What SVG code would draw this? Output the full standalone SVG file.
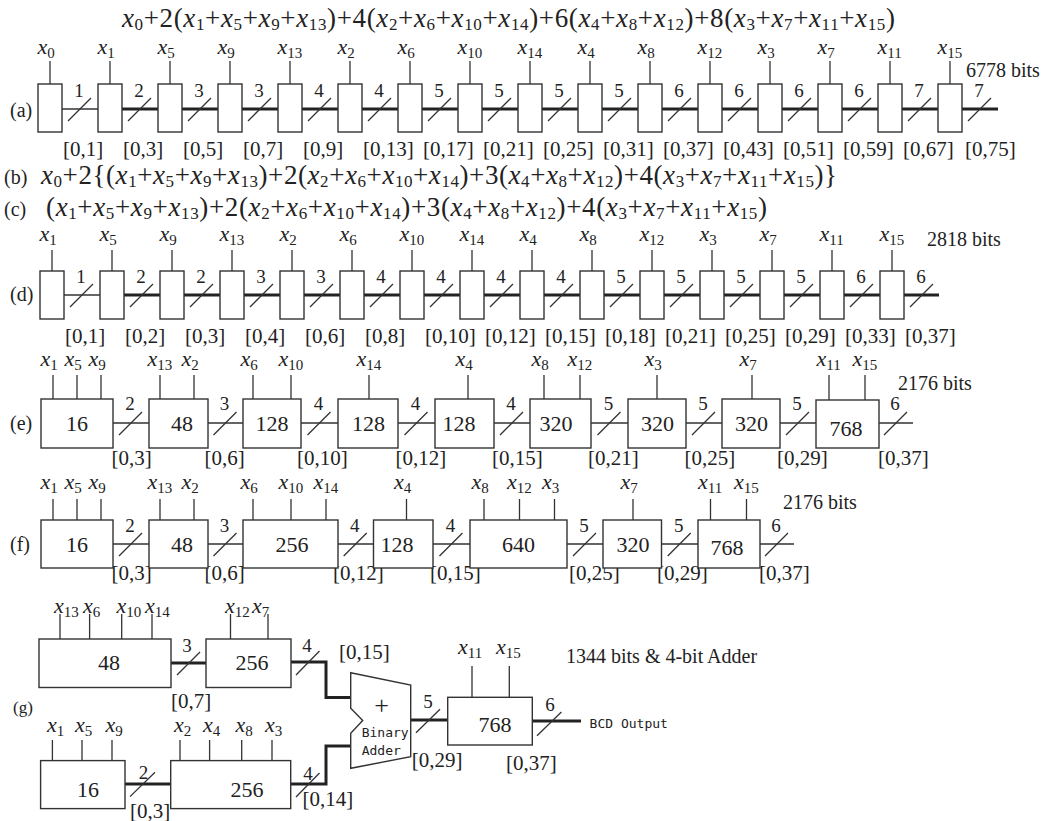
<svg xmlns="http://www.w3.org/2000/svg" width="1052" height="821" viewBox="0 0 1052 821">
<style>
.t{font-family:"Liberation Serif","Times New Roman",serif;fill:#222}
.fm{font-size:27px}
.fs{font-size:17px}
.xl{font-size:22px}
.i{font-style:italic}
.s{font-size:15px}
.n{font-size:19px;text-anchor:middle}
.r{font-size:21px}
.bl{font-size:22px;text-anchor:middle}
.lb{font-size:20px}
.m{font-family:"DejaVu Sans Mono","Liberation Mono",monospace;font-size:13px;fill:#222}
.bx{fill:#fff;stroke:#333;stroke-width:1.4}
.ln{fill:none;stroke:#333;stroke-width:1.3}
.tk{fill:none;stroke:#222;stroke-width:3}
</style>
<rect width="1052" height="821" fill="#fff"/>

<g id="formulas">
<text class="t fm" x="122" y="27" textLength="773"><tspan class="i">x</tspan><tspan class="fs" dy="3">0</tspan><tspan dy="-3">+2(</tspan><tspan class="i">x</tspan><tspan class="fs" dy="3">1</tspan><tspan dy="-3">+</tspan><tspan class="i">x</tspan><tspan class="fs" dy="3">5</tspan><tspan dy="-3">+</tspan><tspan class="i">x</tspan><tspan class="fs" dy="3">9</tspan><tspan dy="-3">+</tspan><tspan class="i">x</tspan><tspan class="fs" dy="3">13</tspan><tspan dy="-3">)+4(</tspan><tspan class="i">x</tspan><tspan class="fs" dy="3">2</tspan><tspan dy="-3">+</tspan><tspan class="i">x</tspan><tspan class="fs" dy="3">6</tspan><tspan dy="-3">+</tspan><tspan class="i">x</tspan><tspan class="fs" dy="3">10</tspan><tspan dy="-3">+</tspan><tspan class="i">x</tspan><tspan class="fs" dy="3">14</tspan><tspan dy="-3">)+6(</tspan><tspan class="i">x</tspan><tspan class="fs" dy="3">4</tspan><tspan dy="-3">+</tspan><tspan class="i">x</tspan><tspan class="fs" dy="3">8</tspan><tspan dy="-3">+</tspan><tspan class="i">x</tspan><tspan class="fs" dy="3">12</tspan><tspan dy="-3">)+8(</tspan><tspan class="i">x</tspan><tspan class="fs" dy="3">3</tspan><tspan dy="-3">+</tspan><tspan class="i">x</tspan><tspan class="fs" dy="3">7</tspan><tspan dy="-3">+</tspan><tspan class="i">x</tspan><tspan class="fs" dy="3">11</tspan><tspan dy="-3">+</tspan><tspan class="i">x</tspan><tspan class="fs" dy="3">15</tspan><tspan dy="-3">)</tspan></text>
<text class="t lb" x="4" y="184">(b)</text>
<text class="t fm" x="41" y="184" textLength="796"><tspan class="i">x</tspan><tspan class="fs" dy="3">0</tspan><tspan dy="-3">+2{(</tspan><tspan class="i">x</tspan><tspan class="fs" dy="3">1</tspan><tspan dy="-3">+</tspan><tspan class="i">x</tspan><tspan class="fs" dy="3">5</tspan><tspan dy="-3">+</tspan><tspan class="i">x</tspan><tspan class="fs" dy="3">9</tspan><tspan dy="-3">+</tspan><tspan class="i">x</tspan><tspan class="fs" dy="3">13</tspan><tspan dy="-3">)+2(</tspan><tspan class="i">x</tspan><tspan class="fs" dy="3">2</tspan><tspan dy="-3">+</tspan><tspan class="i">x</tspan><tspan class="fs" dy="3">6</tspan><tspan dy="-3">+</tspan><tspan class="i">x</tspan><tspan class="fs" dy="3">10</tspan><tspan dy="-3">+</tspan><tspan class="i">x</tspan><tspan class="fs" dy="3">14</tspan><tspan dy="-3">)+3(</tspan><tspan class="i">x</tspan><tspan class="fs" dy="3">4</tspan><tspan dy="-3">+</tspan><tspan class="i">x</tspan><tspan class="fs" dy="3">8</tspan><tspan dy="-3">+</tspan><tspan class="i">x</tspan><tspan class="fs" dy="3">12</tspan><tspan dy="-3">)+4(</tspan><tspan class="i">x</tspan><tspan class="fs" dy="3">3</tspan><tspan dy="-3">+</tspan><tspan class="i">x</tspan><tspan class="fs" dy="3">7</tspan><tspan dy="-3">+</tspan><tspan class="i">x</tspan><tspan class="fs" dy="3">11</tspan><tspan dy="-3">+</tspan><tspan class="i">x</tspan><tspan class="fs" dy="3">15</tspan><tspan dy="-3">)}</tspan></text>
<text class="t lb" x="4" y="216">(c)</text>
<text class="t fm" x="46" y="216" textLength="721"><tspan>(</tspan><tspan class="i">x</tspan><tspan class="fs" dy="3">1</tspan><tspan dy="-3">+</tspan><tspan class="i">x</tspan><tspan class="fs" dy="3">5</tspan><tspan dy="-3">+</tspan><tspan class="i">x</tspan><tspan class="fs" dy="3">9</tspan><tspan dy="-3">+</tspan><tspan class="i">x</tspan><tspan class="fs" dy="3">13</tspan><tspan dy="-3">)+2(</tspan><tspan class="i">x</tspan><tspan class="fs" dy="3">2</tspan><tspan dy="-3">+</tspan><tspan class="i">x</tspan><tspan class="fs" dy="3">6</tspan><tspan dy="-3">+</tspan><tspan class="i">x</tspan><tspan class="fs" dy="3">10</tspan><tspan dy="-3">+</tspan><tspan class="i">x</tspan><tspan class="fs" dy="3">14</tspan><tspan dy="-3">)+3(</tspan><tspan class="i">x</tspan><tspan class="fs" dy="3">4</tspan><tspan dy="-3">+</tspan><tspan class="i">x</tspan><tspan class="fs" dy="3">8</tspan><tspan dy="-3">+</tspan><tspan class="i">x</tspan><tspan class="fs" dy="3">12</tspan><tspan dy="-3">)+4(</tspan><tspan class="i">x</tspan><tspan class="fs" dy="3">3</tspan><tspan dy="-3">+</tspan><tspan class="i">x</tspan><tspan class="fs" dy="3">7</tspan><tspan dy="-3">+</tspan><tspan class="i">x</tspan><tspan class="fs" dy="3">11</tspan><tspan dy="-3">+</tspan><tspan class="i">x</tspan><tspan class="fs" dy="3">15</tspan><tspan dy="-3">)</tspan></text>
</g>

<!-- Row (a) -->
<g id="row-a-labels">
<text class="t lb" x="10" y="117">(a)</text>
<text class="t lb" x="966" y="77">6778 bits</text>
</g>
<g id="conn-a">
<path class="ln" d="M62 109H98"/>
<path class="tk" d="M122 109H158M182 109H218M242 109H278M302 109H338M362 109H398M422 109H458M482 109H518M542 109H578M602 109H638M662 109H698M722 109H758M782 109H818M842 109H878M902 109H938M962 109H998"/>
<path class="ln" d="M68 121L91 98M128 121L151 98M188 121L211 98M248 121L271 98M308 121L331 98M368 121L391 98M428 121L451 98M488 121L511 98M548 121L571 98M608 121L631 98M668 121L691 98M728 121L751 98M788 121L811 98M848 121L871 98M908 121L931 98M968 121L991 98"/>
<g class="t n">
<text x="79" y="97">1</text><text x="139" y="97">2</text><text x="199" y="97">3</text><text x="259" y="97">3</text><text x="319" y="97">4</text><text x="379" y="97">4</text><text x="439" y="97">5</text><text x="499" y="97">5</text><text x="559" y="97">5</text><text x="619" y="97">5</text><text x="679" y="97">6</text><text x="739" y="97">6</text><text x="799" y="97">6</text><text x="859" y="97">6</text><text x="919" y="97">7</text><text x="979" y="97">7</text>
</g>
<g class="t r">
<text x="63" y="156">[0,1]</text><text x="123" y="156">[0,3]</text><text x="183" y="156">[0,5]</text><text x="243" y="156">[0,7]</text><text x="303" y="156">[0,9]</text><text x="363" y="156">[0,13]</text><text x="423" y="156">[0,17]</text><text x="483" y="156">[0,21]</text><text x="543" y="156">[0,25]</text><text x="603" y="156">[0,31]</text><text x="663" y="156">[0,37]</text><text x="723" y="156">[0,43]</text><text x="783" y="156">[0,51]</text><text x="843" y="156">[0,59]</text><text x="903" y="156">[0,67]</text><text x="965" y="156">[0,75]</text>
</g>
</g>
<g id="a-x0"><rect class="bx" x="38" y="84" width="24" height="48"/><path class="ln" d="M50 61V84"/><text class="t xl" x="37.5" y="54"><tspan class="i">x</tspan><tspan class="s" dy="4">0</tspan></text></g>
<g id="a-x1"><rect class="bx" x="98" y="84" width="24" height="48"/><path class="ln" d="M110 61V84"/><text class="t xl" x="97.5" y="54"><tspan class="i">x</tspan><tspan class="s" dy="4">1</tspan></text></g>
<g id="a-x5"><rect class="bx" x="158" y="84" width="24" height="48"/><path class="ln" d="M170 61V84"/><text class="t xl" x="157.5" y="54"><tspan class="i">x</tspan><tspan class="s" dy="4">5</tspan></text></g>
<g id="a-x9"><rect class="bx" x="218" y="84" width="24" height="48"/><path class="ln" d="M230 61V84"/><text class="t xl" x="217.5" y="54"><tspan class="i">x</tspan><tspan class="s" dy="4">9</tspan></text></g>
<g id="a-x13"><rect class="bx" x="278" y="84" width="24" height="48"/><path class="ln" d="M290 61V84"/><text class="t xl" x="277.5" y="54"><tspan class="i">x</tspan><tspan class="s" dy="4">13</tspan></text></g>
<g id="a-x2"><rect class="bx" x="338" y="84" width="24" height="48"/><path class="ln" d="M350 61V84"/><text class="t xl" x="337.5" y="54"><tspan class="i">x</tspan><tspan class="s" dy="4">2</tspan></text></g>
<g id="a-x6"><rect class="bx" x="398" y="84" width="24" height="48"/><path class="ln" d="M410 61V84"/><text class="t xl" x="397.5" y="54"><tspan class="i">x</tspan><tspan class="s" dy="4">6</tspan></text></g>
<g id="a-x10"><rect class="bx" x="458" y="84" width="24" height="48"/><path class="ln" d="M470 61V84"/><text class="t xl" x="457.5" y="54"><tspan class="i">x</tspan><tspan class="s" dy="4">10</tspan></text></g>
<g id="a-x14"><rect class="bx" x="518" y="84" width="24" height="48"/><path class="ln" d="M530 61V84"/><text class="t xl" x="517.5" y="54"><tspan class="i">x</tspan><tspan class="s" dy="4">14</tspan></text></g>
<g id="a-x4"><rect class="bx" x="578" y="84" width="24" height="48"/><path class="ln" d="M590 61V84"/><text class="t xl" x="577.5" y="54"><tspan class="i">x</tspan><tspan class="s" dy="4">4</tspan></text></g>
<g id="a-x8"><rect class="bx" x="638" y="84" width="24" height="48"/><path class="ln" d="M650 61V84"/><text class="t xl" x="637.5" y="54"><tspan class="i">x</tspan><tspan class="s" dy="4">8</tspan></text></g>
<g id="a-x12"><rect class="bx" x="698" y="84" width="24" height="48"/><path class="ln" d="M710 61V84"/><text class="t xl" x="697.5" y="54"><tspan class="i">x</tspan><tspan class="s" dy="4">12</tspan></text></g>
<g id="a-x3"><rect class="bx" x="758" y="84" width="24" height="48"/><path class="ln" d="M770 61V84"/><text class="t xl" x="757.5" y="54"><tspan class="i">x</tspan><tspan class="s" dy="4">3</tspan></text></g>
<g id="a-x7"><rect class="bx" x="818" y="84" width="24" height="48"/><path class="ln" d="M830 61V84"/><text class="t xl" x="817.5" y="54"><tspan class="i">x</tspan><tspan class="s" dy="4">7</tspan></text></g>
<g id="a-x11"><rect class="bx" x="878" y="84" width="24" height="48"/><path class="ln" d="M890 61V84"/><text class="t xl" x="877.5" y="54"><tspan class="i">x</tspan><tspan class="s" dy="4">11</tspan></text></g>
<g id="a-x15"><rect class="bx" x="938" y="84" width="24" height="48"/><path class="ln" d="M950 61V84"/><text class="t xl" x="937.5" y="54"><tspan class="i">x</tspan><tspan class="s" dy="4">15</tspan></text></g>

<!-- Row (d) -->
<g id="row-d-labels">
<text class="t lb" x="10" y="301">(d)</text>
<text class="t lb" x="927" y="246">2818 bits</text>
</g>
<g id="conn-d">
<path class="ln" d="M64 295H100"/>
<path class="tk" d="M124 295H160M184 295H220M244 295H280M304 295H340M364 295H400M424 295H460M484 295H520M544 295H580M604 295H640M664 295H700M724 295H760M784 295H820M844 295H880M904 295H939"/>
<path class="ln" d="M70 307L93 284M130 307L153 284M190 307L213 284M250 307L273 284M310 307L333 284M370 307L393 284M430 307L453 284M490 307L513 284M550 307L573 284M610 307L633 284M670 307L693 284M730 307L753 284M790 307L813 284M850 307L873 284M910 307L933 284"/>
<g class="t n">
<text x="81" y="283">1</text><text x="141" y="283">2</text><text x="201" y="283">2</text><text x="261" y="283">3</text><text x="321" y="283">3</text><text x="381" y="283">4</text><text x="441" y="283">4</text><text x="501" y="283">4</text><text x="561" y="283">4</text><text x="621" y="283">5</text><text x="681" y="283">5</text><text x="741" y="283">5</text><text x="801" y="283">5</text><text x="861" y="283">6</text><text x="921" y="283">6</text>
</g>
<g class="t r">
<text x="65" y="343">[0,1]</text><text x="125" y="343">[0,2]</text><text x="185" y="343">[0,3]</text><text x="245" y="343">[0,4]</text><text x="305" y="343">[0,6]</text><text x="365" y="343">[0,8]</text><text x="425" y="343">[0,10]</text><text x="485" y="343">[0,12]</text><text x="545" y="343">[0,15]</text><text x="605" y="343">[0,18]</text><text x="665" y="343">[0,21]</text><text x="725" y="343">[0,25]</text><text x="785" y="343">[0,29]</text><text x="845" y="343">[0,33]</text><text x="905" y="343">[0,37]</text>
</g>
</g>
<g id="d-x1"><rect class="bx" x="40" y="271" width="24" height="48"/><path class="ln" d="M52 250V271"/><text class="t xl" x="39.5" y="241"><tspan class="i">x</tspan><tspan class="s" dy="4">1</tspan></text></g>
<g id="d-x5"><rect class="bx" x="100" y="271" width="24" height="48"/><path class="ln" d="M112 250V271"/><text class="t xl" x="99.5" y="241"><tspan class="i">x</tspan><tspan class="s" dy="4">5</tspan></text></g>
<g id="d-x9"><rect class="bx" x="160" y="271" width="24" height="48"/><path class="ln" d="M172 250V271"/><text class="t xl" x="159.5" y="241"><tspan class="i">x</tspan><tspan class="s" dy="4">9</tspan></text></g>
<g id="d-x13"><rect class="bx" x="220" y="271" width="24" height="48"/><path class="ln" d="M232 250V271"/><text class="t xl" x="219.5" y="241"><tspan class="i">x</tspan><tspan class="s" dy="4">13</tspan></text></g>
<g id="d-x2"><rect class="bx" x="280" y="271" width="24" height="48"/><path class="ln" d="M292 250V271"/><text class="t xl" x="279.5" y="241"><tspan class="i">x</tspan><tspan class="s" dy="4">2</tspan></text></g>
<g id="d-x6"><rect class="bx" x="340" y="271" width="24" height="48"/><path class="ln" d="M352 250V271"/><text class="t xl" x="339.5" y="241"><tspan class="i">x</tspan><tspan class="s" dy="4">6</tspan></text></g>
<g id="d-x10"><rect class="bx" x="400" y="271" width="24" height="48"/><path class="ln" d="M412 250V271"/><text class="t xl" x="399.5" y="241"><tspan class="i">x</tspan><tspan class="s" dy="4">10</tspan></text></g>
<g id="d-x14"><rect class="bx" x="460" y="271" width="24" height="48"/><path class="ln" d="M472 250V271"/><text class="t xl" x="459.5" y="241"><tspan class="i">x</tspan><tspan class="s" dy="4">14</tspan></text></g>
<g id="d-x4"><rect class="bx" x="520" y="271" width="24" height="48"/><path class="ln" d="M532 250V271"/><text class="t xl" x="519.5" y="241"><tspan class="i">x</tspan><tspan class="s" dy="4">4</tspan></text></g>
<g id="d-x8"><rect class="bx" x="580" y="271" width="24" height="48"/><path class="ln" d="M592 250V271"/><text class="t xl" x="579.5" y="241"><tspan class="i">x</tspan><tspan class="s" dy="4">8</tspan></text></g>
<g id="d-x12"><rect class="bx" x="640" y="271" width="24" height="48"/><path class="ln" d="M652 250V271"/><text class="t xl" x="639.5" y="241"><tspan class="i">x</tspan><tspan class="s" dy="4">12</tspan></text></g>
<g id="d-x3"><rect class="bx" x="700" y="271" width="24" height="48"/><path class="ln" d="M712 250V271"/><text class="t xl" x="699.5" y="241"><tspan class="i">x</tspan><tspan class="s" dy="4">3</tspan></text></g>
<g id="d-x7"><rect class="bx" x="760" y="271" width="24" height="48"/><path class="ln" d="M772 250V271"/><text class="t xl" x="759.5" y="241"><tspan class="i">x</tspan><tspan class="s" dy="4">7</tspan></text></g>
<g id="d-x11"><rect class="bx" x="820" y="271" width="24" height="48"/><path class="ln" d="M832 250V271"/><text class="t xl" x="819.5" y="241"><tspan class="i">x</tspan><tspan class="s" dy="4">11</tspan></text></g>
<g id="d-x15"><rect class="bx" x="880" y="271" width="24" height="48"/><path class="ln" d="M892 250V271"/><text class="t xl" x="879.5" y="241"><tspan class="i">x</tspan><tspan class="s" dy="4">15</tspan></text></g>

<!-- Row (e) -->
<g id="row-e-labels">
<text class="t lb" x="10" y="430">(e)</text>
<text class="t lb" x="898" y="390">2176 bits</text>
</g>
<g id="conn-e">
<path class="ln" d="M113 423H149M208 423H243M301 423H338M398 423H435M494 423H530M591 423H628M686 423H722M780 423H816M879 423H913"/>
<path class="ln" d="M119 435L142 412M213.5 435L236.5 412M307.5 435L330.5 412M404.5 435L427.5 412M500 435L523 412M597.5 435L620.5 412M692 435L715 412M786 435L809 412M884 435L907 412"/>
<g class="t n">
<text x="130" y="410">2</text><text x="224.5" y="410">3</text><text x="318.5" y="410">4</text><text x="415.5" y="410">4</text><text x="511" y="410">4</text><text x="608.5" y="410">5</text><text x="703" y="410">5</text><text x="797" y="410">5</text><text x="895" y="410">6</text>
</g>
<g class="t r">
<text x="111.5" y="465">[0,3]</text><text x="204.5" y="465">[0,6]</text><text x="297" y="465">[0,10]</text><text x="395.5" y="465">[0,12]</text><text x="492" y="465">[0,15]</text><text x="588" y="465">[0,21]</text><text x="684.5" y="465">[0,25]</text><text x="777" y="465">[0,29]</text><text x="878" y="465">[0,37]</text>
</g>
</g>
<g id="e-16"><rect class="bx" x="41" y="399" width="72" height="49"/><path class="ln" d="M53 375V399M77 375V399M101 375V399"/><text class="t xl" x="40.5" y="366"><tspan class="i">x</tspan><tspan class="s" dy="4">1</tspan></text><text class="t xl" x="64.5" y="366"><tspan class="i">x</tspan><tspan class="s" dy="4">5</tspan></text><text class="t xl" x="88.5" y="366"><tspan class="i">x</tspan><tspan class="s" dy="4">9</tspan></text><text class="t bl" x="77" y="431">16</text></g>
<g id="e-48"><rect class="bx" x="149" y="399" width="59" height="49"/><path class="ln" d="M160 375V399M194 375V399"/><text class="t xl" x="147.5" y="366"><tspan class="i">x</tspan><tspan class="s" dy="4">13</tspan></text><text class="t xl" x="181.5" y="366"><tspan class="i">x</tspan><tspan class="s" dy="4">2</tspan></text><text class="t bl" x="182" y="431">48</text></g>
<g id="e-128a"><rect class="bx" x="243" y="399" width="58" height="49"/><path class="ln" d="M253 375V399M291 375V399"/><text class="t xl" x="240.5" y="366"><tspan class="i">x</tspan><tspan class="s" dy="4">6</tspan></text><text class="t xl" x="278.5" y="366"><tspan class="i">x</tspan><tspan class="s" dy="4">10</tspan></text><text class="t bl" x="272" y="431">128</text></g>
<g id="e-128b"><rect class="bx" x="338" y="399" width="60" height="49"/><path class="ln" d="M369 375V399"/><text class="t xl" x="356.5" y="366"><tspan class="i">x</tspan><tspan class="s" dy="4">14</tspan></text><text class="t bl" x="368.5" y="431">128</text></g>
<g id="e-128c"><rect class="bx" x="435" y="399" width="59" height="49"/><path class="ln" d="M468 375V399"/><text class="t xl" x="455.5" y="366"><tspan class="i">x</tspan><tspan class="s" dy="4">4</tspan></text><text class="t bl" x="459" y="431">128</text></g>
<g id="e-320a"><rect class="bx" x="530" y="399" width="61" height="49"/><path class="ln" d="M544 375V399M580 375V399"/><text class="t xl" x="531.5" y="366"><tspan class="i">x</tspan><tspan class="s" dy="4">8</tspan></text><text class="t xl" x="567.5" y="366"><tspan class="i">x</tspan><tspan class="s" dy="4">12</tspan></text><text class="t bl" x="556" y="431">320</text></g>
<g id="e-320b"><rect class="bx" x="628" y="399" width="58" height="49"/><path class="ln" d="M657 375V399"/><text class="t xl" x="644.5" y="366"><tspan class="i">x</tspan><tspan class="s" dy="4">3</tspan></text><text class="t bl" x="657.5" y="431">320</text></g>
<g id="e-320c"><rect class="bx" x="722" y="399" width="58" height="49"/><path class="ln" d="M752 375V399"/><text class="t xl" x="739.5" y="366"><tspan class="i">x</tspan><tspan class="s" dy="4">7</tspan></text><text class="t bl" x="751.5" y="431">320</text></g>
<g id="e-768"><rect class="bx" x="816" y="400" width="63" height="48"/><path class="ln" d="M829 375V400M865 375V400"/><text class="t xl" x="816.5" y="366"><tspan class="i">x</tspan><tspan class="s" dy="4">11</tspan></text><text class="t xl" x="852.5" y="366"><tspan class="i">x</tspan><tspan class="s" dy="4">15</tspan></text><text class="t bl" x="846" y="436">768</text></g>

<!-- Row (f) -->
<g id="row-f-labels">
<text class="t lb" x="10" y="551">(f)</text>
<text class="t lb" x="783" y="509">2176 bits</text>
</g>
<g id="conn-f">
<path class="ln" d="M113 544H149M208 544H243M338 544H373.5M433 544H470M567 544H603M661.5 544H698M760 544H794"/>
<path class="ln" d="M119 556L142 533M213.5 556L236.5 533M343.7 556L366.7 533M439.5 556L462.5 533M573 556L596 533M667.7 556L690.7 533M765 556L788 533"/>
<g class="t n">
<text x="130" y="532">2</text><text x="224.5" y="532">3</text><text x="354.7" y="532">4</text><text x="450.5" y="532">4</text><text x="584" y="532">5</text><text x="678.7" y="532">5</text><text x="776" y="532">6</text>
</g>
<g class="t r">
<text x="111.5" y="580">[0,3]</text><text x="204.5" y="580">[0,6]</text><text x="333" y="580">[0,12]</text><text x="430" y="580">[0,15]</text><text x="569" y="580">[0,25]</text><text x="657" y="580">[0,29]</text><text x="759" y="580">[0,37]</text>
</g>
</g>
<g id="f-16"><rect class="bx" x="41" y="520" width="72" height="48"/><path class="ln" d="M53 499V520M77 499V520M101 499V520"/><text class="t xl" x="40.5" y="489"><tspan class="i">x</tspan><tspan class="s" dy="4">1</tspan></text><text class="t xl" x="64.5" y="489"><tspan class="i">x</tspan><tspan class="s" dy="4">5</tspan></text><text class="t xl" x="88.5" y="489"><tspan class="i">x</tspan><tspan class="s" dy="4">9</tspan></text><text class="t bl" x="77" y="552">16</text></g>
<g id="f-48"><rect class="bx" x="149" y="520" width="59" height="48"/><path class="ln" d="M160 499V520M194 499V520"/><text class="t xl" x="147.5" y="489"><tspan class="i">x</tspan><tspan class="s" dy="4">13</tspan></text><text class="t xl" x="181.5" y="489"><tspan class="i">x</tspan><tspan class="s" dy="4">2</tspan></text><text class="t bl" x="182" y="552">48</text></g>
<g id="f-256"><rect class="bx" x="243" y="520" width="95" height="48"/><path class="ln" d="M253 499V520M291 499V520M326 499V520"/><text class="t xl" x="240.5" y="489"><tspan class="i">x</tspan><tspan class="s" dy="4">6</tspan></text><text class="t xl" x="278.5" y="489"><tspan class="i">x</tspan><tspan class="s" dy="4">10</tspan></text><text class="t xl" x="313.5" y="489"><tspan class="i">x</tspan><tspan class="s" dy="4">14</tspan></text><text class="t bl" x="292" y="552">256</text></g>
<g id="f-128"><rect class="bx" x="373.5" y="520" width="59.5" height="48"/><path class="ln" d="M406.5 499V520"/><text class="t xl" x="394" y="489"><tspan class="i">x</tspan><tspan class="s" dy="4">4</tspan></text><text class="t bl" x="397" y="552">128</text></g>
<g id="f-640"><rect class="bx" x="470" y="520" width="97" height="48"/><path class="ln" d="M484 499V520M519.5 499V520M554.5 499V520"/><text class="t xl" x="471.5" y="489"><tspan class="i">x</tspan><tspan class="s" dy="4">8</tspan></text><text class="t xl" x="507" y="489"><tspan class="i">x</tspan><tspan class="s" dy="4">12</tspan></text><text class="t xl" x="542" y="489"><tspan class="i">x</tspan><tspan class="s" dy="4">3</tspan></text><text class="t bl" x="518.5" y="552">640</text></g>
<g id="f-320"><rect class="bx" x="603" y="520" width="58.5" height="48"/><path class="ln" d="M633 499V520"/><text class="t xl" x="620.5" y="489"><tspan class="i">x</tspan><tspan class="s" dy="4">7</tspan></text><text class="t bl" x="633" y="552">320</text></g>
<g id="f-768"><rect class="bx" x="698" y="520" width="62" height="48"/><path class="ln" d="M710.5 499V520M746.5 499V520"/><text class="t xl" x="698" y="489"><tspan class="i">x</tspan><tspan class="s" dy="4">11</tspan></text><text class="t xl" x="734" y="489"><tspan class="i">x</tspan><tspan class="s" dy="4">15</tspan></text><text class="t bl" x="727" y="555">768</text></g>

<!-- Row (g) -->
<g id="row-g-labels">
<text class="t" style="font-size:17px" x="13" y="713">(g)</text>
<text class="t lb" x="566" y="663">1344 bits &amp; 4-bit Adder</text>
</g>
<g id="conn-g">
<path class="tk" d="M171 663H206"/>
<path class="tk" d="M291 662H326V697.5H351"/>
<path class="tk" d="M125 784H171"/>
<path class="tk" d="M291 784H326V746H351"/>
<path class="tk" d="M410.7 720H447.7"/>
<path class="tk" d="M532.3 721H581"/>
<path class="ln" d="M177 675L200 652M296 675L319.5 651M130 796.6L155 772.3M296 797L319.5 773M416 732.7L440 709.3M537 735.7L561.4 712"/>
<g class="t n">
<text x="187" y="652">3</text><text x="307" y="652">4</text><text x="143.6" y="779">2</text><text x="308" y="780">4</text><text x="428" y="708">5</text><text x="550" y="711">6</text>
</g>
<g class="t r">
<text x="171" y="708">[0,7]</text><text x="339" y="659">[0,15]</text><text x="130" y="818">[0,3]</text><text x="302.5" y="806">[0,14]</text><text x="411.7" y="767">[0,29]</text><text x="506" y="770">[0,37]</text>
</g>
<text class="m" x="589.6" y="728">BCD Output</text>
</g>
<g id="g-48"><rect class="bx" x="39" y="639" width="132" height="48.5"/><path class="ln" d="M60 614V639M89.6 614V639M121.7 614V639M152 614V639"/><text class="t xl" x="54" y="613"><tspan class="i">x</tspan><tspan class="s" dy="4">13</tspan></text><text class="t xl" x="83" y="613"><tspan class="i">x</tspan><tspan class="s" dy="4">6</tspan></text><text class="t xl" x="116.6" y="613"><tspan class="i">x</tspan><tspan class="s" dy="4">10</tspan></text><text class="t xl" x="145" y="613"><tspan class="i">x</tspan><tspan class="s" dy="4">14</tspan></text><text class="t bl" x="109" y="670">48</text></g>
<g id="g-256top"><rect class="bx" x="206" y="639" width="85" height="48.5"/><path class="ln" d="M230.5 614V639M268 614V639"/><text class="t xl" x="225" y="613"><tspan class="i">x</tspan><tspan class="s" dy="4">12</tspan></text><text class="t xl" x="252" y="613"><tspan class="i">x</tspan><tspan class="s" dy="4">7</tspan></text><text class="t bl" x="252" y="670">256</text></g>
<g id="g-16"><rect class="bx" x="40.6" y="760.6" width="84.4" height="48"/><path class="ln" d="M52.4 740V760.6M82 740V760.6M112 740V760.6"/><text class="t xl" x="47" y="732"><tspan class="i">x</tspan><tspan class="s" dy="4">1</tspan></text><text class="t xl" x="75" y="732"><tspan class="i">x</tspan><tspan class="s" dy="4">5</tspan></text><text class="t xl" x="105.5" y="732"><tspan class="i">x</tspan><tspan class="s" dy="4">9</tspan></text><text class="t bl" x="88" y="797">16</text></g>
<g id="g-256bot"><rect class="bx" x="170.7" y="760.6" width="120" height="48"/><path class="ln" d="M180 740V760.6M209.6 740V760.6M241.7 740V760.6M272 740V760.6"/><text class="t xl" x="174" y="732"><tspan class="i">x</tspan><tspan class="s" dy="4">2</tspan></text><text class="t xl" x="203" y="732"><tspan class="i">x</tspan><tspan class="s" dy="4">4</tspan></text><text class="t xl" x="235.6" y="732"><tspan class="i">x</tspan><tspan class="s" dy="4">8</tspan></text><text class="t xl" x="265" y="732"><tspan class="i">x</tspan><tspan class="s" dy="4">3</tspan></text><text class="t bl" x="247" y="797">256</text></g>
<g id="g-adder"><path class="bx" d="M350.7 672.7L410.7 685V756.7L350.7 768.3V733.3L362.7 720.5L350.7 708.3Z"/><text class="t" style="font-size:26px;text-anchor:middle" x="381.7" y="714">+</text><text class="m" x="361.7" y="736.7">Binary</text><text class="m" x="361.7" y="755">Adder</text></g>
<g id="g-768"><rect class="bx" x="447.7" y="697.3" width="84.6" height="47.7"/><path class="ln" d="M472 666V697.3M509.3 666V697.3"/><text class="t xl" x="458" y="654"><tspan class="i">x</tspan><tspan class="s" dy="4">11</tspan></text><text class="t xl" x="496" y="654"><tspan class="i">x</tspan><tspan class="s" dy="4">15</tspan></text><text class="t bl" x="495" y="731.7">768</text></g>
</svg>
